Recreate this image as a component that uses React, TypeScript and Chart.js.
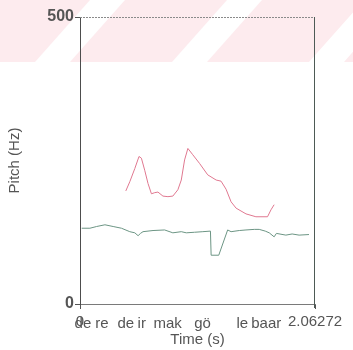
import { useEffect, useRef } from "react";
import { Chart, registerables } from "chart.js";

Chart.register(...registerables);

const X_MAX = 2.06272;
const Y_MAX = 500;
const xTickValues = [0, 2.06272];
const xTickLabels = ["0", "2.06272"];
const yTickValues = [0, 500];
const yTickLabels = ["0", "500"];

// upper (pink) pitch contour
const pitchTimes = [0.402, 0.437, 0.481, 0.518, 0.539, 0.568, 0.597, 0.627, 0.656, 0.684, 0.728, 0.772, 0.815, 0.859, 0.889, 0.918, 0.947, 0.99, 1.049, 1.121, 1.195, 1.238, 1.282, 1.326, 1.37, 1.457, 1.544, 1.646, 1.676, 1.704];
const pitchHz = [197, 213, 236, 257, 254, 233, 210, 192, 194, 195, 188, 187, 188, 199, 216, 251, 271, 260, 245, 225, 216, 214, 200, 178, 167, 157, 152, 152, 164, 173];

// lower (green) pitch contour
const lowTimes = [0.015, 0.087, 0.146, 0.219, 0.291, 0.364, 0.437, 0.481, 0.51, 0.531, 0.553, 0.641, 0.743, 0.815, 0.889, 0.933, 1.005, 1.078, 1.145, 1.151, 1.218, 1.296, 1.326, 1.398, 1.457, 1.53, 1.573, 1.626, 1.661, 1.704, 1.724, 1.807, 1.862, 1.923, 2.01];
const lowHz = [132, 132, 135, 138, 135, 132, 126, 124, 119, 123, 126, 128, 129, 124, 126, 124, 125, 126, 127, 85, 85, 129, 126, 128, 129, 130, 130, 127, 124, 117, 123, 120, 122, 120, 121];

const syllables = ["de", "re", "de", "ir", "mak", "gö", "le", "baar"];
const syllableTimes = [0.026, 0.192, 0.402, 0.542, 0.769, 1.075, 1.425, 1.635];

const FONT = "'Liberation Sans', Arial, sans-serif";
const TEXT = "#555555";

const stripes = {
  id: "stripes",
  beforeDraw(chart: any) {
    const ctx = chart.ctx;
    const w = chart.width;
    const h = 62;
    ctx.save();
    ctx.fillStyle = "rgb(253,235,238)";
    ctx.fillRect(0, 0, w, h);
    ctx.fillStyle = "#ffffff";
    const starts = [-102, 35, 172, 309];
    for (const x0 of starts) {
      ctx.beginPath();
      ctx.moveTo(x0, h);
      ctx.lineTo(x0 + 35, h);
      ctx.lineTo(x0 + 90, 0);
      ctx.lineTo(x0 + 55, 0);
      ctx.closePath();
      ctx.fill();
    }
    ctx.restore();
  },
};

const frame = {
  id: "frame",
  afterDraw(chart: any) {
    const { ctx, chartArea } = chart;
    const { left, right, top, bottom } = chartArea;
    ctx.save();
    ctx.strokeStyle = "#8a8a8a";
    ctx.lineWidth = 1;
    ctx.setLineDash([2, 1]);
    ctx.beginPath();
    ctx.moveTo(left, top + 0.5);
    ctx.lineTo(right, top + 0.5);
    ctx.stroke();
    ctx.setLineDash([]);
    ctx.strokeStyle = "#4d5a55";
    ctx.beginPath();
    ctx.moveTo(right - 0.5, top);
    ctx.lineTo(right - 0.5, bottom + 4);
    ctx.stroke();
    // syllable labels placed on the time axis
    const xs = chart.scales.x;
    ctx.fillStyle = TEXT;
    ctx.font = `15px ${FONT}`;
    ctx.textAlign = "center";
    ctx.textBaseline = "alphabetic";
    syllables.forEach((s, i) => {
      ctx.fillText(s, xs.getPixelForValue(syllableTimes[i]), bottom + 24);
    });
    ctx.restore();
  },
};

export default function App() {
  const ref = useRef<HTMLCanvasElement | null>(null);
  useEffect(() => {
    if (!ref.current) return;
    const chart = new Chart(ref.current, {
      type: "line",
      data: {
        datasets: [
          {
            label: "upper",
            data: pitchTimes.map((t, i) => ({ x: t, y: pitchHz[i] })),
            borderColor: "#e07890",
            borderWidth: 1,
            pointRadius: 0,
            tension: 0,
            fill: false,
          },
          {
            label: "lower",
            data: lowTimes.map((t, i) => ({ x: t, y: lowHz[i] })),
            borderColor: "#6c9584",
            borderWidth: 1,
            pointRadius: 0,
            tension: 0,
            fill: false,
          },
        ],
      },
      options: {
        animation: false,
        responsive: false,
        maintainAspectRatio: false,
        layout: { padding: { top: 17, right: 38, left: 0, bottom: 0 } },
        plugins: { legend: { display: false }, tooltip: { enabled: false } },
        scales: {
          x: {
            type: "linear",
            min: 0,
            max: X_MAX,
            afterFit(scale: any) {
              scale.height = 46;
            },
            afterBuildTicks(scale: any) {
              scale.ticks = xTickValues.map((v) => ({ value: v }));
            },
            ticks: {
              autoSkip: false,
              maxRotation: 0,
              padding: 4,
              color: TEXT,
              font: { family: FONT, size: 15 },
              callback: (_v: any, i: number) => xTickLabels[i],
            },
            grid: { drawOnChartArea: false, drawTicks: true, tickLength: 5, color: "#555" },
            border: { display: true, color: "#7a7a7a", dash: [3, 1] },
            title: {
              display: true,
              text: "Time (s)",
              color: TEXT,
              font: { family: FONT, size: 15 },
              padding: { top: 0, bottom: 1 },
            },
          },
          y: {
            type: "linear",
            min: 0,
            max: Y_MAX,
            afterFit(scale: any) {
              scale.width = 80;
            },
            afterBuildTicks(scale: any) {
              scale.ticks = yTickValues.map((v) => ({ value: v }));
            },
            ticks: {
              autoSkip: false,
              padding: 1,
              color: TEXT,
              font: { family: FONT, size: 16, weight: "bold" },
              callback: (_v: any, i: number) => yTickLabels[i],
            },
            grid: { drawOnChartArea: false, drawTicks: true, tickLength: 5, color: "#555" },
            border: { display: true, color: "#4d4d4d" },
            title: {
              display: true,
              text: "Pitch (Hz)",
              color: TEXT,
              font: { family: FONT, size: 15 },
              padding: { top: 6, bottom: 0 },
            },
          },
        },
      },
      plugins: [stripes, frame],
    } as any);
    return () => chart.destroy();
  }, []);
  return (
    <div style={{ position: "absolute", left: 0, top: 0, width: 353, height: 350 }}>
      <canvas ref={ref} width={353} height={350} style={{ display: "block" }} />
    </div>
  );
}
